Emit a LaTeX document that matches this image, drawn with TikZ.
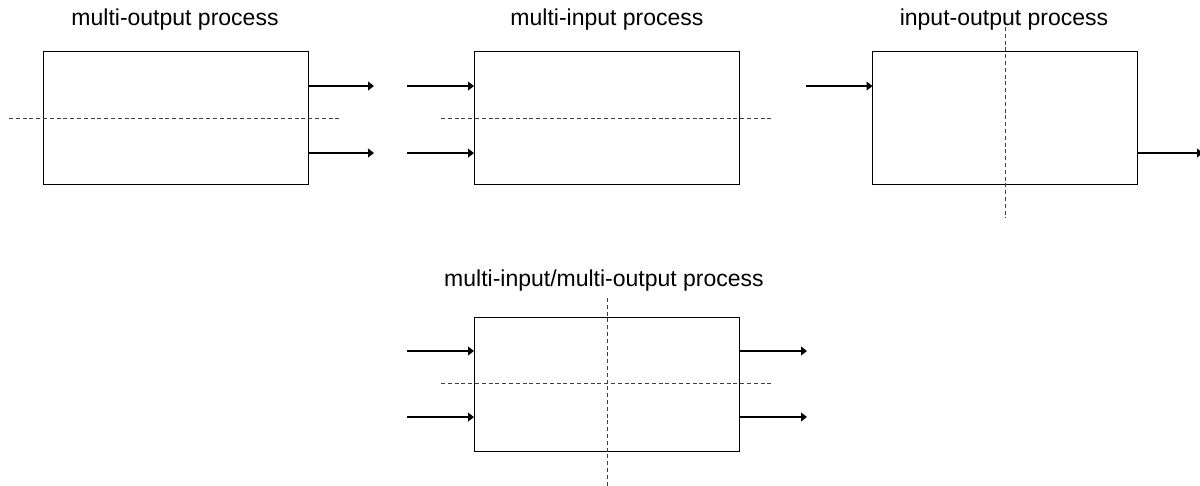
\documentclass[tikz,border=0pt]{standalone}
\usepackage{fontspec}
\setmainfont{Liberation Sans}
\usetikzlibrary{arrows.meta,calc}
\begin{document}
\begin{tikzpicture}[x=0.5pt,y=-0.5pt,
  procbox/.style={draw=black,line width=0.5pt,minimum width=132.5pt,minimum height=66.5pt,inner sep=0pt,outer sep=0pt},
  title/.style={font=\fontsize{11.5pt}{13pt}\selectfont,inner sep=0pt},
  flow/.style={line width=0.9pt,-{Triangle[length=3pt,width=4.4pt]}},
  split/.style={draw=black!75,line width=0.5pt,dash pattern=on 2pt off 1.4pt}]
\useasboundingbox (0,0) rectangle (1200,486);
% boxes
\node[procbox] (b1) at (175.5,118.5) {};
\node[procbox] (b2) at (606.5,118.5) {};
\node[procbox] (b3) at (1005,118.5) {};
\node[procbox] (b4) at (606.5,384.5) {};
% titles
\node[title] (t1) at (175,20) {multi-output process};
\node[title] (t2) at (607,20) {multi-input process};
\node[title] (t3) at (1004,20) {input-output process};
\node[title] (t4) at (604,281) {multi-input/multi-output process};
% port coordinates
\coordinate (b1o1) at ($(b1.north east)!0.256!(b1.south east)$);
\coordinate (b1o2) at ($(b1.north east)!0.76!(b1.south east)$);
\coordinate (b2i1) at ($(b2.north west)!0.256!(b2.south west)$);
\coordinate (b2i2) at ($(b2.north west)!0.76!(b2.south west)$);
\coordinate (b3i1) at ($(b3.north west)!0.256!(b3.south west)$);
\coordinate (b3o1) at ($(b3.north east)!0.76!(b3.south east)$);
\coordinate (b4i1) at ($(b4.north west)!0.248!(b4.south west)$);
\coordinate (b4i2) at ($(b4.north west)!0.745!(b4.south west)$);
\coordinate (b4o1) at ($(b4.north east)!0.248!(b4.south east)$);
\coordinate (b4o2) at ($(b4.north east)!0.745!(b4.south east)$);
% free ends
\coordinate (e1a) at (374,86);
\coordinate (e1b) at (374,153);
\coordinate (s2a) at (407,86);
\coordinate (s2b) at (407,153);
\coordinate (s3a) at (806,86);
\coordinate (e3a) at (1203,153);
\coordinate (s4a) at (407,351);
\coordinate (s4b) at (407,417);
\coordinate (e4a) at (807,351);
\coordinate (e4b) at (807,417);
% dashed split lines
\coordinate (d1l) at (9,119);   \coordinate (d1r) at (342,119);
\coordinate (d2l) at (441,119); \coordinate (d2r) at (773,119);
\coordinate (d3t) at (1005,27); \coordinate (d3b) at (1005,218);
\coordinate (d4l) at (441,384); \coordinate (d4r) at (773,384);
\coordinate (d4t) at (607,298); \coordinate (d4b) at (607,486);
\draw[split] (d1l) -- (d1r);
\draw[split] (d2l) -- (d2r);
\draw[split] (d3t) -- (d3b);
\draw[split] (d4l) -- (d4r);
\draw[split] (d4t) -- (d4b);
% arrows
\draw[flow] (b1o1) -- (e1a);
\draw[flow] (b1o2) -- (e1b);
\draw[flow] (s2a) -- (b2i1);
\draw[flow] (s2b) -- (b2i2);
\draw[flow] (s3a) -- (b3i1);
\draw[flow] (b3o1) -- (e3a);
\draw[flow] (s4a) -- (b4i1);
\draw[flow] (s4b) -- (b4i2);
\draw[flow] (b4o1) -- (e4a);
\draw[flow] (b4o2) -- (e4b);
\end{tikzpicture}
\end{document}
